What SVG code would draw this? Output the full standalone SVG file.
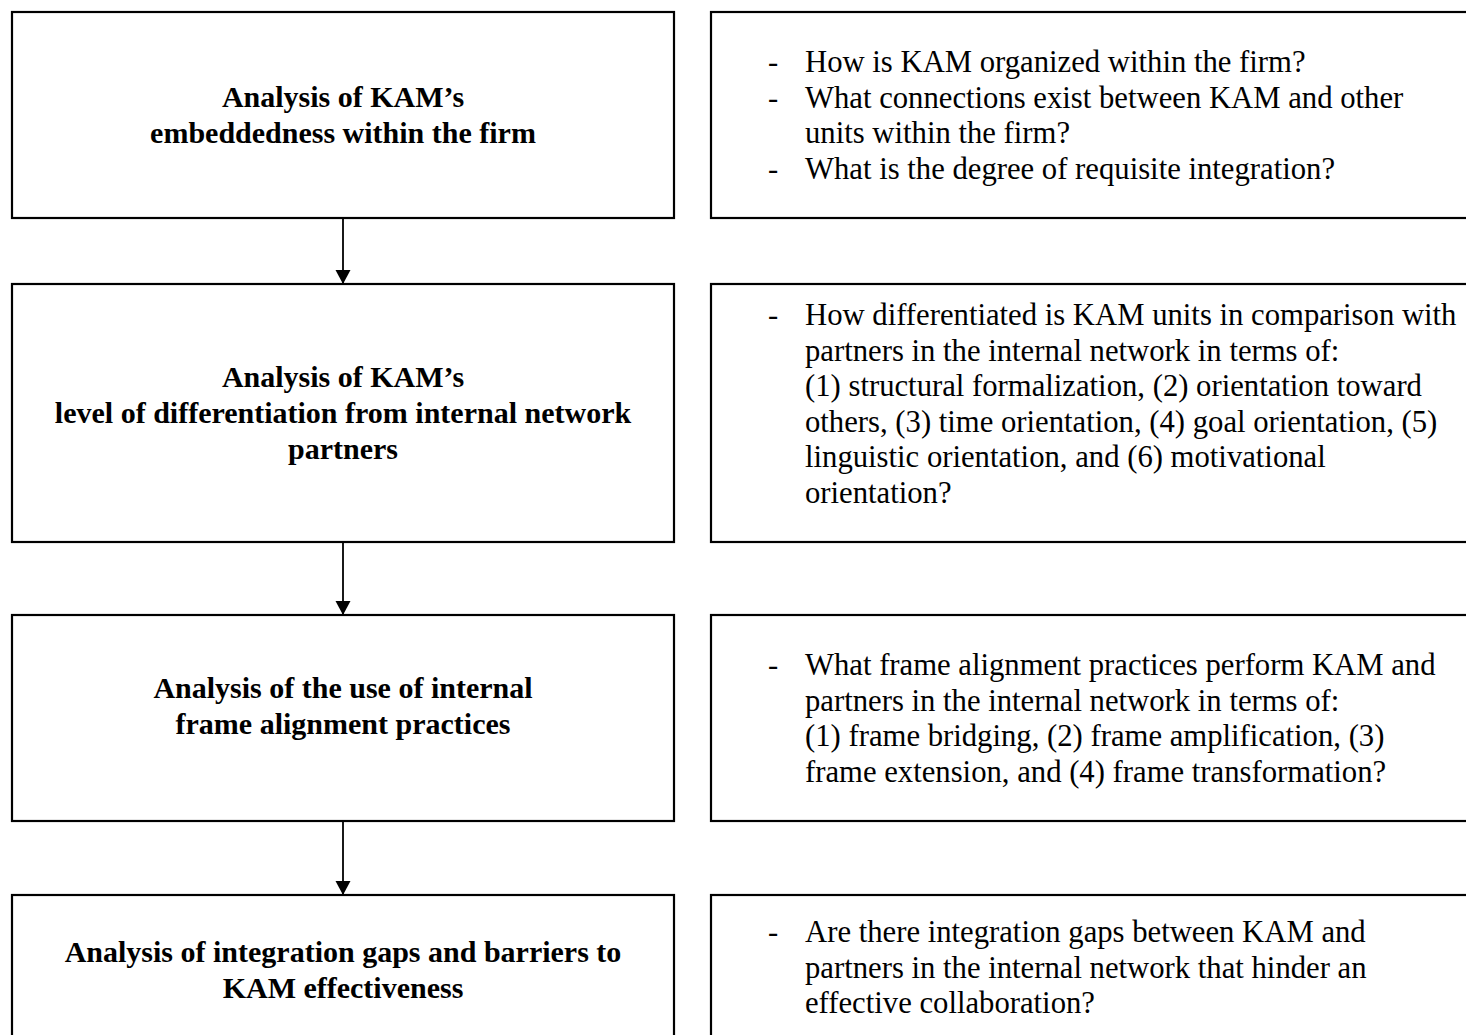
<svg xmlns="http://www.w3.org/2000/svg" width="1466" height="1035" viewBox="0 0 1466 1035">
  <style>
    .box { fill: #ffffff; stroke: #000000; stroke-width: 2.2; }
    .title { font-family: "Liberation Serif", "Times New Roman", serif; font-weight: bold; font-size: 30px; fill: #000; text-anchor: middle; }
    .q { font-family: "Liberation Serif", "Times New Roman", serif; font-size: 30.7px; fill: #000; }
    .conn { stroke: #000; stroke-width: 1.8; fill: none; }
  </style>
  <defs>
    <marker id="arrow" markerUnits="userSpaceOnUse" markerWidth="16" markerHeight="16" refX="14" refY="7.5" orient="auto">
      <path d="M0,0 L14,7.5 L0,15 Z" fill="#000"/>
    </marker>
  </defs>
  <rect width="1466" height="1035" fill="#ffffff"/>

  <g id="connectors">
    <line class="conn" x1="343" y1="218" x2="343" y2="284" marker-end="url(#arrow)"/>
    <line class="conn" x1="343" y1="542" x2="343" y2="615" marker-end="url(#arrow)"/>
    <line class="conn" x1="343" y1="821" x2="343" y2="895" marker-end="url(#arrow)"/>
  </g>

  <g id="step1">
    <rect class="box" x="12" y="12" width="662" height="206"/>
    <text class="title" x="343" y="107">Analysis of KAM’s</text>
    <text class="title" x="343" y="143">embeddedness within the firm</text>
  </g>
  <g id="q1">
    <rect class="box" x="711" y="12" width="770" height="206"/>
    <text class="q" x="768" y="72">-</text>
    <text class="q" x="805" y="72">How is KAM organized within the firm?</text>
    <text class="q" x="768" y="107.5">-</text>
    <text class="q" x="805" y="107.5">What connections exist between KAM and other</text>
    <text class="q" x="805" y="143">units within the firm?</text>
    <text class="q" x="768" y="178.5">-</text>
    <text class="q" x="805" y="178.5">What is the degree of requisite integration?</text>
  </g>

  <g id="step2">
    <rect class="box" x="12" y="284" width="662" height="258"/>
    <text class="title" x="343" y="387">Analysis of KAM’s</text>
    <text class="title" x="343" y="423">level of differentiation from internal network</text>
    <text class="title" x="343" y="459">partners</text>
  </g>
  <g id="q2">
    <rect class="box" x="711" y="284" width="770" height="258"/>
    <text class="q" x="768" y="325">-</text>
    <text class="q" x="805" y="325">How differentiated is KAM units in comparison with</text>
    <text class="q" x="805" y="360.5">partners in the internal network in terms of:</text>
    <text class="q" x="805" y="396">(1) structural formalization, (2) orientation toward</text>
    <text class="q" x="805" y="431.5">others, (3) time orientation, (4) goal orientation, (5)</text>
    <text class="q" x="805" y="467">linguistic orientation, and (6) motivational</text>
    <text class="q" x="805" y="502.5">orientation?</text>
  </g>

  <g id="step3">
    <rect class="box" x="12" y="615" width="662" height="206"/>
    <text class="title" x="343" y="698">Analysis of the use of internal</text>
    <text class="title" x="343" y="734">frame alignment practices</text>
  </g>
  <g id="q3">
    <rect class="box" x="711" y="615" width="770" height="206"/>
    <text class="q" x="768" y="675">-</text>
    <text class="q" x="805" y="675">What frame alignment practices perform KAM and</text>
    <text class="q" x="805" y="710.5">partners in the internal network in terms of:</text>
    <text class="q" x="805" y="746">(1) frame bridging, (2) frame amplification, (3)</text>
    <text class="q" x="805" y="781.5">frame extension, and (4) frame transformation?</text>
  </g>

  <g id="step4">
    <rect class="box" x="12" y="895" width="662" height="160"/>
    <text class="title" x="343" y="962">Analysis of integration gaps and barriers to</text>
    <text class="title" x="343" y="998">KAM effectiveness</text>
  </g>
  <g id="q4">
    <rect class="box" x="711" y="895" width="770" height="160"/>
    <text class="q" x="768" y="942">-</text>
    <text class="q" x="805" y="942">Are there integration gaps between KAM and</text>
    <text class="q" x="805" y="977.5">partners in the internal network that hinder an</text>
    <text class="q" x="805" y="1013">effective collaboration?</text>
  </g>
</svg>
